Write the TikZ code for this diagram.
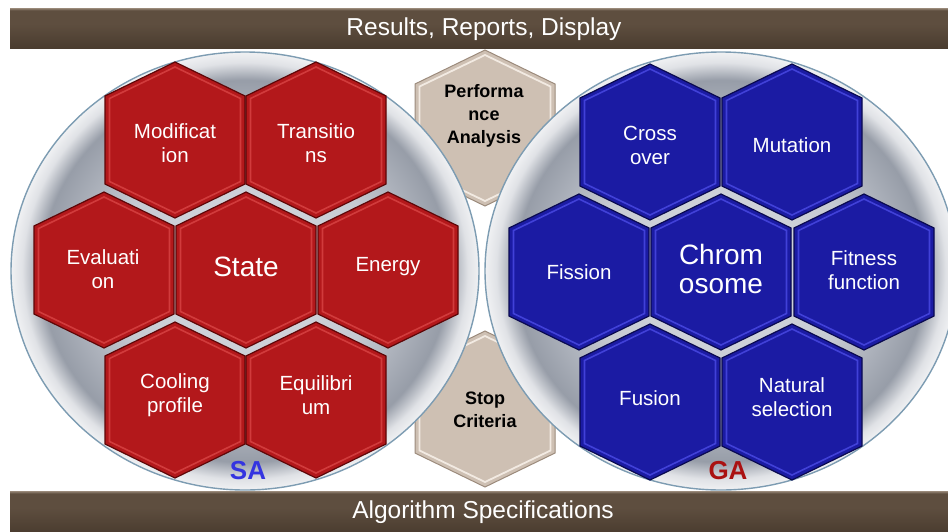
\documentclass[tikz,border=0pt]{standalone}
\usepackage{fontspec}
\setmainfont{Liberation Sans}
\definecolor{redfill}{HTML}{B3181B}
\definecolor{reddark}{HTML}{5E0708}
\definecolor{redlight}{HTML}{DC4848}
\definecolor{bluefill}{HTML}{1B1BA3}
\definecolor{bluedark}{HTML}{0A0A50}
\definecolor{bluelight}{HTML}{4E4EEA}
\definecolor{tanfill}{HTML}{CEC0B3}
\definecolor{tandark}{HTML}{9C8B7C}
\definecolor{tanlight}{HTML}{F2EAE2}
\definecolor{bartop}{HTML}{9A8A7A}
\definecolor{barmid}{HTML}{5E4E3F}
\definecolor{barbot}{HTML}{4A3C2F}
\definecolor{rimline}{HTML}{7D9CB2}
\definecolor{bowlA}{HTML}{D9DCE2}
\definecolor{bowlB}{HTML}{C6CAD2}
\definecolor{bowlC}{HTML}{979DA8}
\definecolor{bowlD}{HTML}{E0E2E6}
\definecolor{bowlE}{HTML}{F0F1F3}
\definecolor{saBlue}{HTML}{3434E0}
\definecolor{gaRed}{HTML}{AA1111}
\pgfdeclareradialshading{bowl}{\pgfpoint{0bp}{0bp}}{color(0bp)=(bowlA); color(14bp)=(bowlB); color(21.8bp)=(bowlC); color(23.8bp)=(bowlD); color(25bp)=(bowlE); color(50bp)=(bowlE)}
\pgfdeclareverticalshading{barshade}{100bp}{color(0bp)=(barbot); color(25bp)=(barbot); color(55bp)=(barmid); color(72bp)=(barmid); color(75bp)=(bartop); color(100bp)=(bartop)}
\newcommand\hexcell[4]{%
  \begin{scope}[shift={(#1,#2)}]
    \path[#3] (0,-78) -- (70,-44) -- (70,44) -- (0,78) -- (-70,44) -- (-70,-44) -- cycle;
    \path[#4] (0,-73) -- (65.5,-41.5) -- (65.5,41.5) -- (0,73) -- (-65.5,41.5) -- (-65.5,-41.5) -- cycle;
  \end{scope}}
\begin{document}
\begin{tikzpicture}[x=1pt,y=-1pt,
  redhex/.style={fill=redfill, draw=reddark, line width=1.2pt},
  redbevel/.style={draw=redlight, line width=1.6pt, draw opacity=0.75},
  bluehex/.style={fill=bluefill, draw=bluedark, line width=1.2pt},
  bluebevel/.style={draw=bluelight, line width=1.6pt, draw opacity=0.75},
  tanhex/.style={fill=tanfill, draw=tandark, line width=1pt},
  tanbevel/.style={draw=tanlight, line width=1.8pt},
  bowlcircle/.style={shading=bowl, draw=rimline, line width=1.4pt},
  barbox/.style={shading=barshade, draw=none},
  hexlabel/.style={text=white, align=center, font=\fontsize{20.5}{24}\selectfont, inner sep=0pt},
  biglabel/.style={text=white, align=center, font=\fontsize{28}{29}\selectfont, inner sep=0pt},
  tanlabel/.style={text=black, align=center, font=\bfseries\fontsize{18}{23}\selectfont, inner sep=0pt},
  barlabel/.style={text=white, font=\fontsize{24.5}{28}\selectfont, inner sep=0pt},
  sglabel/.style={font=\bfseries\fontsize{26}{28}\selectfont, inner sep=0pt}]
\useasboundingbox (0,0) rectangle (948,531);
\begin{scope}
\clip (0,0) rectangle (948,531);
% middle tan hexagons (behind circles)
\hexcell{485}{128}{tanhex}{tanbevel}
\hexcell{485}{409}{tanhex}{tanbevel}
% circles
\path[bowlcircle] (245,271) ellipse [x radius=234, y radius=219];
\path[bowlcircle] (721,271) ellipse [x radius=236, y radius=219];
% SA hexagons
\hexcell{175}{140}{redhex}{redbevel}
\hexcell{316}{140}{redhex}{redbevel}
\hexcell{104}{270}{redhex}{redbevel}
\hexcell{246}{270}{redhex}{redbevel}
\hexcell{388}{270}{redhex}{redbevel}
\hexcell{175}{400}{redhex}{redbevel}
\hexcell{316}{400}{redhex}{redbevel}
% GA hexagons
\hexcell{650}{142}{bluehex}{bluebevel}
\hexcell{792}{142}{bluehex}{bluebevel}
\hexcell{579}{272}{bluehex}{bluebevel}
\hexcell{721}{272}{bluehex}{bluebevel}
\hexcell{864}{272}{bluehex}{bluebevel}
\hexcell{650}{402}{bluehex}{bluebevel}
\hexcell{792}{402}{bluehex}{bluebevel}
% bars
\path[barbox] (10,8) rectangle (950,48);
\path[barbox] (10,491) rectangle (950,533);
\end{scope}
% labels
\node[barlabel] (top) at (484,29) {Results, Reports, Display};
\node[barlabel] (bottom) at (483,512) {Algorithm Specifications};
\node[tanlabel] (perf) at (484,116) {Performa\\nce\\Analysis};
\node[tanlabel] (stop) at (485,410) {Stop\\Criteria};
\node[hexlabel] (mod) at (175,143) {Modificat\\ion};
\node[hexlabel] (trans) at (316,143) {Transitio\\ns};
\node[hexlabel] (eval) at (103,269) {Evaluati\\on};
\node[biglabel] (state) at (246,267) {State};
\node[hexlabel] (energy) at (388,267) {Energy};
\node[hexlabel] (cool) at (175,395) {Cooling\\profile};
\node[hexlabel] (equi) at (316,395) {Equilibri\\um};
\node[hexlabel] (cross) at (650,145) {Cross\\over};
\node[hexlabel] (mut) at (792,145) {Mutation};
\node[hexlabel] (fission) at (579,272) {Fission};
\node[biglabel] (chrom) at (721,269) {Chrom\\osome};
\node[hexlabel] (fit) at (864,270) {Fitness\\function};
\node[hexlabel] (fusion) at (650,398) {Fusion};
\node[hexlabel] (nat) at (792,397) {Natural\\selection};
\node[sglabel, text=saBlue] (sa) at (248,471) {SA};
\node[sglabel, text=gaRed] (ga) at (728,471) {GA};
\end{tikzpicture}
\end{document}
